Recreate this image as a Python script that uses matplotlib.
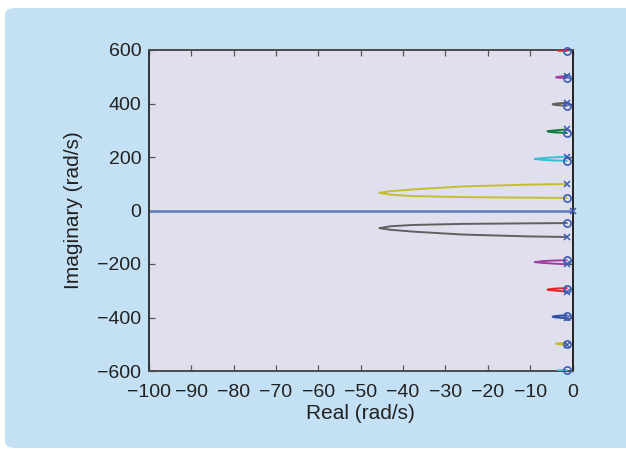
import matplotlib
matplotlib.use("Agg")
import matplotlib.pyplot as plt
from matplotlib.patches import FancyBboxPatch

plt.rcParams['font.family'] = ['Liberation Sans', 'DejaVu Sans']

# ---- data ----
xticks = [-100, -90, -80, -70, -60, -50, -40, -30, -20, -10, 0]
yticks = [-600, -400, -200, 0, 200, 400, 600]

# real-axis branch
real_axis_x = [-100, 0]
real_axis_y = [0, 0]

# upper-half branches (pole -> leftmost -> zero); lower half is the conjugate
b100_x = [-1.4, -10, -25.8, -37.6, -43, -45.6, -43, -37.6, -25.8, -10, -1.4]
b100_y = [99, 97, 90, 79, 72, 66, 59, 54, 50, 48, 47]
b200_x = [-1.4, -4, -7, -8.9, -7, -4, -1.4]
b200_y = [201, 199, 196, 193, 189, 187, 186]
b300_x = [-1.4, -3, -5, -5.9, -5, -3, -1.4]
b300_y = [303, 301, 298, 296, 293, 291, 290]
b400_x = [-1.4, -3, -4.2, -4.7, -4.2, -3, -1.4]
b400_y = [403, 401, 399, 397, 395, 393, 392]
b500_x = [-1.4, -2.8, -3.6, -3.9, -3.6, -2.8, -1.4]
b500_y = [503, 501, 499, 498, 497, 496, 496]
b600_x = [-1.4, -2.6, -3.3, -3.5, -3.3, -2.6, -1.4]
b600_y = [600, 600, 599, 599, 598, 597, 597]

upper_colors = ['#c4be2c', '#35c0d2', '#0e7c3c', '#606060', '#a13d9e', '#e6252b']
lower_colors = ['#606060', '#a13d9e', '#e6252b', '#2f4e9f', '#c4be2c', '#35c0d2']

pole_re = [0, -1.4, -1.4, -1.4, -1.4, -1.4, -1.4, -1.4, -1.4, -1.4, -1.4]
pole_im = [0, 99, -100, 201, -201, 303, -303, 403, -403, 503, -503]
zero_re = [-1.4, -1.4, -1.4, -1.4, -1.4, -1.4, -1.4, -1.4, -1.4, -1.4, -1.4, -1.4]
zero_im = [47, -47, 186, -186, 290, -292, 392, -395, 496, -498, 597, -598]

# ---- figure ----
W, H = 626, 451
fig = plt.figure(figsize=(W / 100, H / 100), dpi=100)
fig.patch.set_facecolor('white')

panel = FancyBboxPatch((5 / W, 3 / H), 700 / W, (443 - 3) / H,
                       boxstyle="round,pad=0,rounding_size=0.016",
                       transform=fig.transFigure, facecolor='#c3e0f4',
                       edgecolor='none', zorder=-10)
fig.patches.append(panel)

ax = fig.add_axes([149 / W, (H - 371) / H, (572.5 - 149) / W, (371 - 50) / H])
ax.set_zorder(1)
ax.set_facecolor('#e0dfee')

ax.plot(real_axis_x, real_axis_y, color='#5f78be', lw=1.8, zorder=2)

branches = [(b100_x, b100_y), (b200_x, b200_y), (b300_x, b300_y),
            (b400_x, b400_y), (b500_x, b500_y), (b600_x, b600_y)]
for (bx, by), cu, cl in zip(branches, upper_colors, lower_colors):
    ax.plot(bx, by, color=cu, lw=1.4, zorder=3)
    ax.plot(bx, [-v for v in by], color=cl, lw=1.4, zorder=3)

mk = '#3c5db3'
ax.plot(pole_re, pole_im, linestyle='none', marker='x', color=mk,
        markersize=3.8, markeredgewidth=1.1, zorder=5, clip_on=False)
ax.plot(zero_re, zero_im, linestyle='none', marker='o', markerfacecolor='none',
        markeredgecolor=mk, markersize=5.2, markeredgewidth=1.2, zorder=5,
        clip_on=False)

ax.set_xlim(-100, 0)
ax.set_ylim(-600, 600)
ax.set_xticks(xticks)
ax.set_yticks(yticks)
ax.tick_params(direction='in', length=4, width=0.9, color='#555555',
               top=True, right=True, labelsize=14, labelcolor='#222222')
ax.tick_params(axis='x', pad=9.5)
ax.tick_params(axis='y', pad=5.5)
for s in ax.spines.values():
    s.set_color('#4a4a4a')
    s.set_linewidth(1.4)
ax.spines['left'].set_color('#333333')
ax.spines['right'].set_color('#222222')

ax.set_xlabel('Real (rad/s)', fontsize=15, color='#222222', labelpad=2)
ax.set_ylabel('Imaginary (rad/s)', fontsize=15, color='#222222', labelpad=10)

fig.savefig('out.png', dpi=100)
